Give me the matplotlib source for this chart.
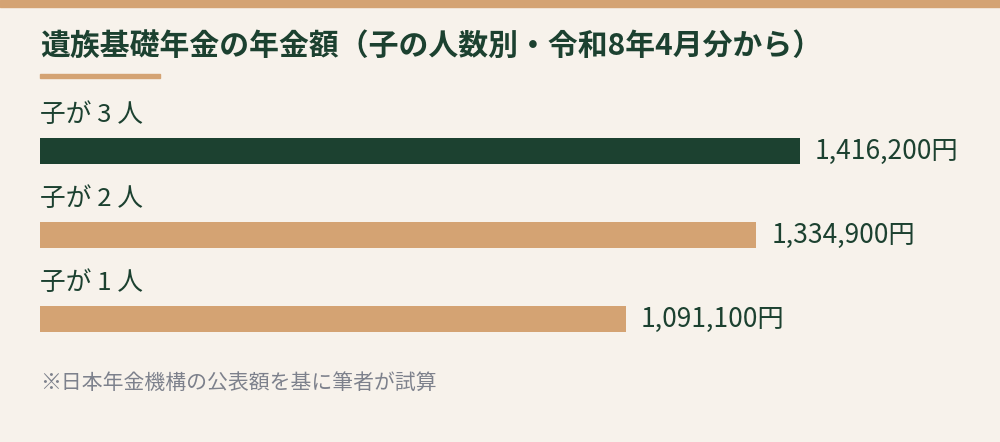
import matplotlib.pyplot as plt
from matplotlib.patches import Rectangle

plt.rcParams["font.family"] = ["Noto Sans CJK JP", "DejaVu Sans"]

# data
labels = ["子が 3 人", "子が 2 人", "子が 1 人"]
amounts = [1416200, 1334900, 1091100]
value_texts = ["1,416,200円", "1,334,900円", "1,091,100円"]
highlight = [True, False, False]

title = "遺族基礎年金の年金額（子の人数別・令和8年4月分から）"
note = "※日本年金機構の公表額を基に筆者が試算"

BG = "#f7f2eb"
GREEN = "#1c4130"
TAN = "#d4a373"
GRAY = "#7d818c"

W, H = 1000, 442


def fx(px):
    return px / W


def fy(py):
    return 1 - py / H


fig = plt.figure(figsize=(W / 100, H / 100), dpi=100, facecolor=BG)

# top band + title underline
fig.patches.append(Rectangle((0, fy(7)), 1, 7 / H, transform=fig.transFigure,
                             color=TAN, zorder=0))
fig.patches.append(Rectangle((fx(40), fy(78)), fx(120), 4 / H,
                             transform=fig.transFigure, color=TAN, zorder=0))

fig.text(fx(40), fy(46), title, fontsize=21.5, fontweight="bold", color=GREEN,
         ha="left", va="center")
fig.text(fx(40), fy(383), note, fontsize=15, color=GRAY, ha="left", va="center")

# bar area: 138px .. 332px, bars at 84px pitch, 26px tall
ax = fig.add_axes([fx(40), fy(332), fx(760), (332 - 138) / H])
ax.set_facecolor("none")
pos = list(range(len(amounts)))
colors = [GREEN if h else TAN for h in highlight]
ax.barh(pos, amounts, height=26 / 84, color=colors)
ax.set_xlim(0, max(amounts))
ax.set_ylim(2 + 13 / 84, -13 / 84)
ax.axis("off")

for i, (lab, val, txt) in enumerate(zip(labels, amounts, value_texts)):
    ax.text(0, i - 36 / 84, lab, fontsize=18.5, color=GREEN, ha="left",
            va="center", clip_on=False)
    ax.annotate(txt, xy=(val, i), xytext=(15, 0), textcoords="offset pixels",
                fontsize=19, color=GREEN, ha="left", va="center",
                annotation_clip=False)

fig.savefig("out.png", dpi=100, facecolor=BG)
